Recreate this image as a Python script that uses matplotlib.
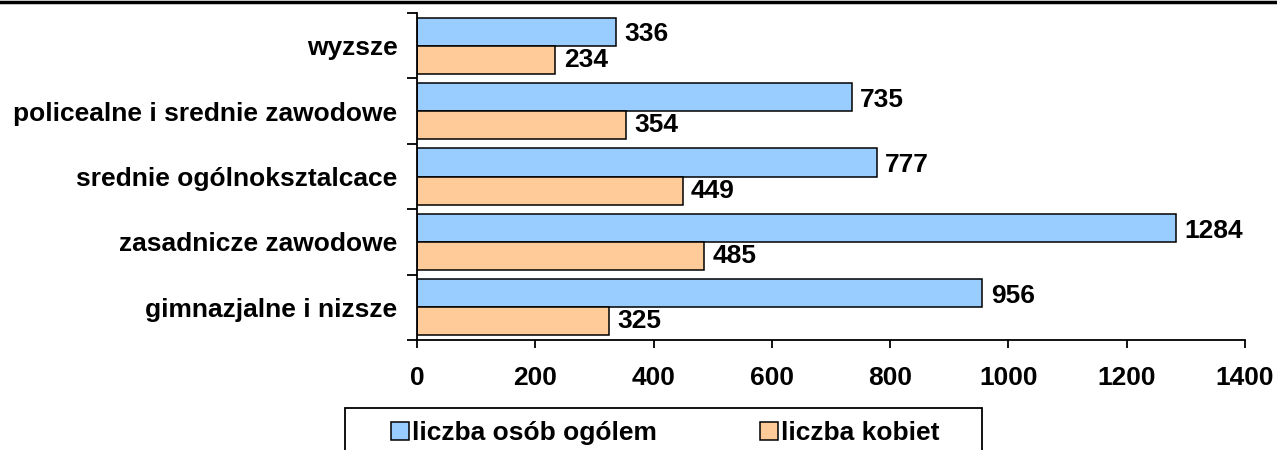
import matplotlib
matplotlib.use("Agg")
import matplotlib.pyplot as plt
import numpy as np
from matplotlib.patches import Rectangle
from matplotlib.lines import Line2D

categories = ["wyzsze", "policealne i srednie zawodowe", "srednie ogólnokszta\u0142cace".replace("\u0142", "l"),
              "zasadnicze zawodowe", "gimnazjalne i nizsze"]
total = [336, 735, 777, 1284, 956]
women = [234, 354, 449, 485, 325]
series_names = ["liczba osób ogólem", "liczba kobiet"]
xticks = [0, 200, 400, 600, 800, 1000, 1200, 1400]

plt.rcParams['font.family'] = ['Liberation Sans', 'DejaVu Sans']
plt.rcParams['font.weight'] = 'bold'
FS = 19

W, H = 1277, 450
fig = plt.figure(figsize=(W / 100, H / 100), dpi=100)
ax = fig.add_axes([417 / W, 1 - 340 / H, (1245 - 417) / W, (340 - 13) / H])

y = np.arange(len(categories))
bh = 0.43
blue = "#99CCFF"
orange = "#FFCC99"
b1 = ax.barh(y - bh / 2, total, height=bh, color=blue, edgecolor="black", linewidth=1.1)
b2 = ax.barh(y + bh / 2, women, height=bh, color=orange, edgecolor="black", linewidth=1.1)

for bars, vals, dy in ((b1, total, -2), (b2, women, 0)):
    for r, v in zip(bars, vals):
        ax.annotate(str(v), (r.get_width(), r.get_y() + r.get_height() / 2),
                    xytext=(6, dy), textcoords="offset points", ha="left", va="center",
                    fontsize=FS, fontweight="bold")

ax.set_xlim(0, 1400)
ax.set_ylim(len(categories) - 0.5, -0.5)
ax.set_xticks(xticks)
ax.set_xticklabels([str(t) for t in xticks], fontsize=FS, fontweight="bold")
ax.tick_params(axis="x", direction="out", length=6, width=1.3, pad=13)

ax.set_yticks(np.arange(len(categories) + 1) - 0.5)
ax.set_yticklabels([])
ax.tick_params(axis="y", which="major", direction="out", length=7, width=1.3)
ax.set_yticks(y, minor=True)
ax.set_yticklabels(categories, minor=True, fontsize=FS, fontweight="bold")
ax.tick_params(axis="y", which="minor", length=0, pad=14)

for s in ("top", "right"):
    ax.spines[s].set_visible(False)
for s in ("left", "bottom"):
    ax.spines[s].set_linewidth(1.3)

# top border line
fig.add_artist(Line2D([0, 1], [1 - 1.5 / H, 1 - 1.5 / H], transform=fig.transFigure,
                      color="black", linewidth=2.5))

# legend box (cut off at bottom)
fig.add_artist(Rectangle((345 / W, -20 / H), (982 - 345) / W, (H - 408 + 20) / H,
                         transform=fig.transFigure, facecolor="white", edgecolor="black",
                         linewidth=1.3))
handles = [Rectangle((0, 0), 1, 1, facecolor=blue, edgecolor="black", linewidth=1.1),
           Rectangle((0, 0), 1, 1, facecolor=orange, edgecolor="black", linewidth=1.1)]
fig.legend(handles, series_names, loc="center", bbox_to_anchor=(665 / W, 1 - 433 / H),
           ncol=2, frameon=False, handlelength=0.7, handleheight=0.7,
           handletextpad=0.1, columnspacing=3.9, prop={"weight": "bold", "size": FS})

fig.savefig("out.png", dpi=100)
